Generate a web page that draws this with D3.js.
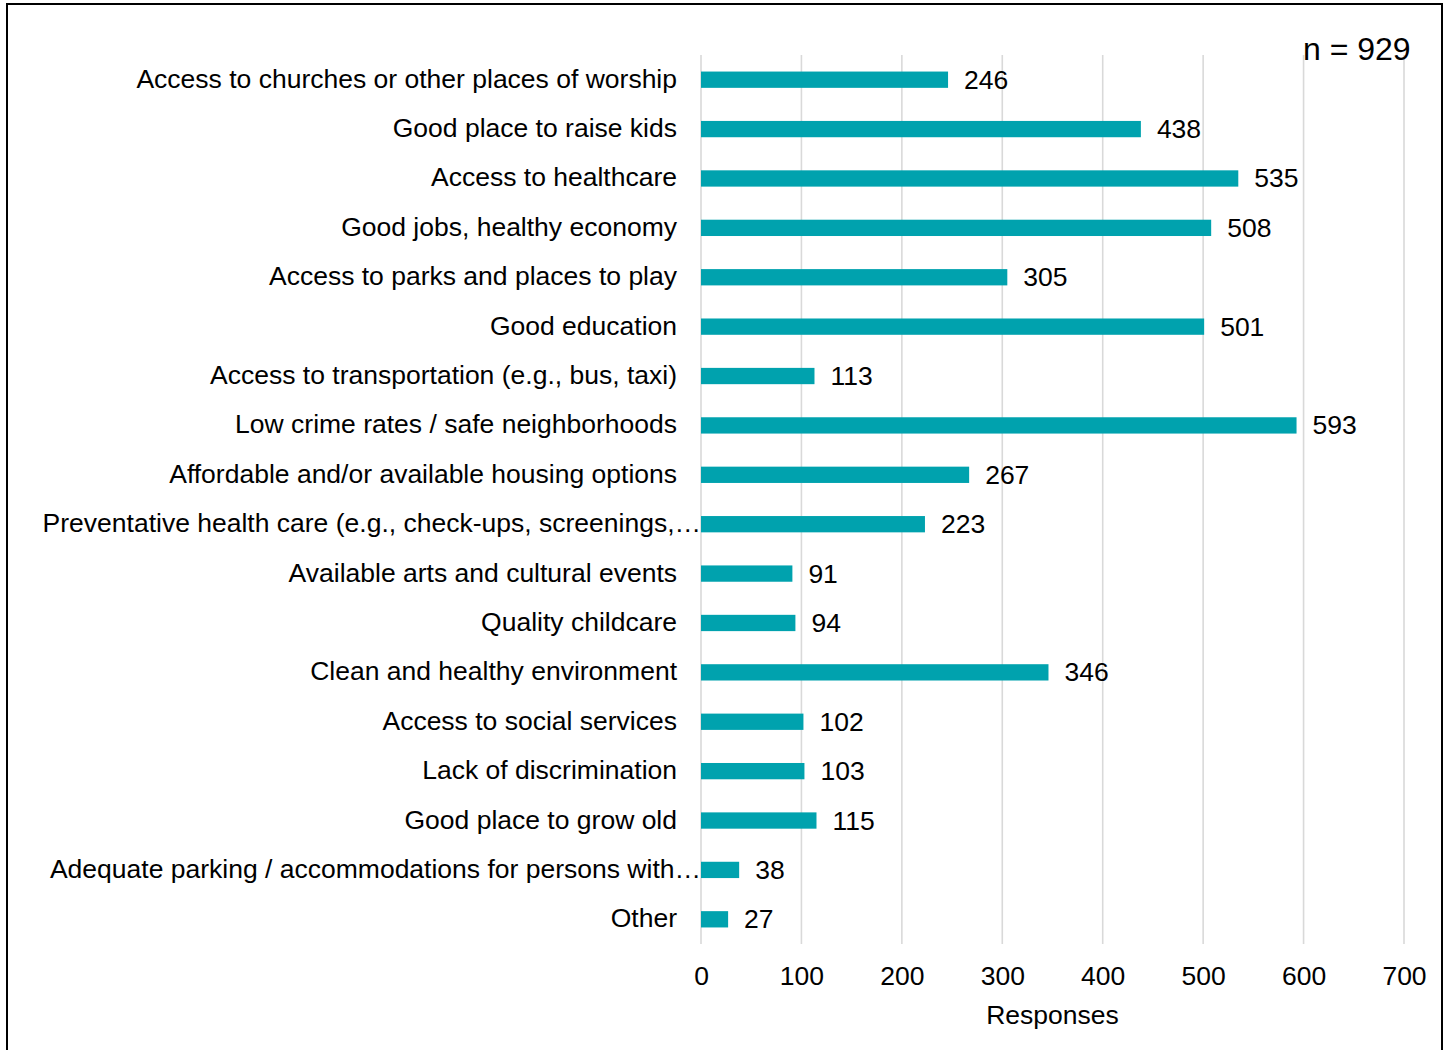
<!DOCTYPE html>
<html><head><meta charset="utf-8">
<script src="https://cdn.jsdelivr.net/npm/d3@7"></script>
<style>html,body{margin:0;padding:0;background:#fff;}svg{display:block;font-family:"Liberation Sans",Arial,sans-serif;}</style>
</head><body>
<svg id="chart" width="1448" height="1050"></svg>
<script>
const categories = [
  "Access to churches or other places of worship",
  "Good place to raise kids",
  "Access to healthcare",
  "Good jobs, healthy economy",
  "Access to parks and places to play",
  "Good education",
  "Access to transportation (e.g., bus, taxi)",
  "Low crime rates / safe neighborhoods",
  "Affordable and/or available housing options",
  "Preventative health care (e.g., check-ups, screenings,…",
  "Available arts and cultural events",
  "Quality childcare",
  "Clean and healthy environment",
  "Access to social services",
  "Lack of discrimination",
  "Good place to grow old",
  "Adequate parking / accommodations for persons with…",
  "Other"
];
const responses = [246, 438, 535, 508, 305, 501, 113, 593, 267, 223, 91, 94, 346, 102, 103, 115, 38, 27];
const xTicks = [0, 100, 200, 300, 400, 500, 600, 700];
const axisTitle = "Responses";
const nLabel = "n = 929";

(function () {
const svg = d3.select("#chart");
const pL = 701, pR = 1404, pT = 55, pB = 944;
const fs = 26.5;
const x = d3.scaleLinear().domain([0, 700]).range([pL, pR]);
const y = d3.scaleBand().domain(categories).range([pT, pB]).paddingInner(0.67).paddingOuter(0.335);

svg.append("rect").attr("x", 7).attr("y", 4).attr("width", 1435).attr("height", 1060)
  .attr("fill", "none").attr("stroke", "#000").attr("stroke-width", 2);

svg.append("g").selectAll("line").data(xTicks).join("line")
  .attr("x1", d => x(d)).attr("x2", d => x(d)).attr("y1", pT).attr("y2", pB)
  .attr("stroke", "#d9d9d9").attr("stroke-width", 1.6);

svg.append("g").selectAll("rect").data(responses).join("rect")
  .attr("x", x(0)).attr("y", (d, i) => y(categories[i]))
  .attr("width", d => x(d) - x(0)).attr("height", y.bandwidth())
  .attr("fill", "#00a2ae");

svg.append("g").selectAll("text").data(responses).join("text")
  .attr("x", d => x(d) + 16).attr("y", (d, i) => y(categories[i]) + y.bandwidth() / 2 + 2)
  .attr("dominant-baseline", "middle").attr("font-size", fs).attr("fill", "#000")
  .text(d => d);

svg.append("g").selectAll("text").data(categories).join("text")
  .attr("x", d => d.endsWith("…") ? pL : pL - 24)
  .attr("y", d => y(d) + y.bandwidth() / 2 + 1)
  .attr("text-anchor", "end").attr("dominant-baseline", "middle")
  .attr("font-size", fs).attr("fill", "#000").text(d => d);

const xAxis = d3.axisBottom(x).tickValues(xTicks).tickSize(0).tickPadding(0);
const gx = svg.append("g").attr("transform", `translate(0,${pB})`).call(xAxis);
gx.select(".domain").remove();
gx.selectAll("text").attr("font-size", fs).attr("fill", "#000")
  .attr("font-family", "Liberation Sans, Arial, sans-serif")
  .attr("dy", null).attr("y", 34).attr("dominant-baseline", "middle");

svg.append("text").attr("x", (pL + pR) / 2).attr("y", 1017)
  .attr("text-anchor", "middle").attr("dominant-baseline", "middle")
  .attr("font-size", fs).attr("fill", "#000").text(axisTitle);

svg.append("text").attr("x", 1303).attr("y", 52)
  .attr("dominant-baseline", "middle").attr("font-size", 32).attr("fill", "#000").text(nLabel);
})();
</script>
</body></html>
